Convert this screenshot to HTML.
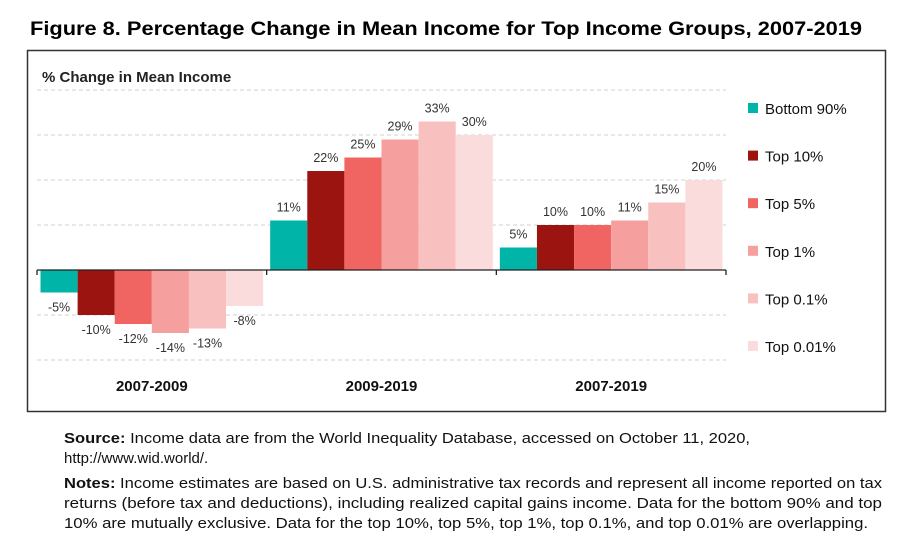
<!DOCTYPE html>
<html><head><meta charset="utf-8"><style>
body{margin:0;background:#fff;width:906px;height:554px;overflow:hidden;font-family:"Liberation Sans",sans-serif}
svg{display:block}
</style></head><body>
<svg width="906" height="554">
<text x="446" y="35" text-anchor="middle" font-size="19" font-weight="bold" textLength="832" lengthAdjust="spacingAndGlyphs" fill="#000">Figure 8. Percentage Change in Mean Income for Top Income Groups, 2007-2019</text>
<rect x="27.5" y="50.5" width="858" height="361" fill="#fff" stroke="#333" stroke-width="1.5"/>
<text x="42" y="82" font-size="15" font-weight="bold" fill="#222">% Change in Mean Income</text>
<g id="grid"></g>
<g id="bars"></g>
<g id="axis"></g>
<g id="legend"></g>
<text x="64" y="443" font-size="15" fill="#111" textLength="686" lengthAdjust="spacingAndGlyphs"><tspan font-weight="bold">Source:</tspan> Income data are from the World  Inequality Database, accessed on October 11, 2020,</text>
<text x="64" y="463" font-size="15" fill="#111">http://www.wid.world/.</text>
<text x="64" y="488" font-size="15" fill="#111" textLength="818" lengthAdjust="spacingAndGlyphs"><tspan font-weight="bold">Notes:</tspan> Income estimates are based on U.S. administrative tax records and represent all income reported on tax</text>
<text x="64" y="508" font-size="15" fill="#111" textLength="818" lengthAdjust="spacingAndGlyphs">returns (before tax and deductions), including realized capital gains income.  Data for the bottom 90% and top</text>
<text x="64" y="528" font-size="15" fill="#111" textLength="804" lengthAdjust="spacingAndGlyphs">10% are mutually exclusive.  Data for the top 10%, top 5%, top 1%, top 0.1%, and top 0.01% are overlapping.</text>
</svg>
<script>
const categories = ["2007-2009","2009-2019","2007-2019"];
const seriesNames = ["Bottom 90%","Top 10%","Top 5%","Top 1%","Top 0.1%","Top 0.01%"];
const bottom90 = [-5,11,5];
const top10 = [-10,22,10];
const top5 = [-12,25,10];
const top1 = [-14,29,11];
const top01 = [-13,33,15];
const top001 = [-8,30,20];
const gridTicks = [40,30,20,10,-10,-20];
const seriesValues=[bottom90,top10,top5,top1,top01,top001];
const colors=["#00b5a8","#9b1410","#f06462","#f5a09e","#f8c0bf","#fbdcdc"];
const NS="http://www.w3.org/2000/svg";
const x0=37,x1=726,zeroY=270,pxPer=4.5;
const band=(x1-x0)/categories.length;
const y=v=>zeroY-v*pxPer;
const xBand=i=>x0+i*band;
function mk(tag,attrs,parent,text){const e=document.createElementNS(NS,tag);for(const k in attrs)e.setAttribute(k,attrs[k]);if(text!==undefined)e.textContent=text;parent.appendChild(e);return e;}
const grid=document.getElementById('grid');
gridTicks.forEach(t=>{
  const l=mk('line',{x1:x0,x2:x1,y1:y(t),y2:y(t),stroke:'#d0d0d0','stroke-width':1,'stroke-dasharray':'4,3'},grid);
  
  
});
const bars=document.getElementById('bars');
const pad=3.5,bw=(band-2*pad)/seriesNames.length;
categories.forEach((c,i)=>{
  seriesValues.forEach((arr,s)=>{
    const v=arr[i];const bx=xBand(i)+pad+s*bw;
    const r=mk('rect',{x:bx,y:Math.min(y(v),zeroY),width:bw,height:Math.abs(v*pxPer),fill:colors[s]},bars);
    
    
    const ty=v>=0?y(v)-9:y(v)+19;
    const t=mk('text',{x:bx+bw/2,y:ty,'text-anchor':'middle','font-size':12.5,fill:'#333'},bars,v+'%');
    
    
  });
});
const axis=document.getElementById('axis');
mk('line',{x1:x0,x2:x1,y1:zeroY,y2:zeroY,stroke:'#222','stroke-width':1.3},axis);
for(let i=0;i<=categories.length;i++){mk('line',{x1:xBand(i),x2:xBand(i),y1:zeroY,y2:zeroY+5,stroke:'#222','stroke-width':1.3},axis);}
categories.forEach((c,i)=>{
  const t=mk('text',{x:xBand(i)+band/2,y:391,'text-anchor':'middle','font-size':15,'font-weight':'bold',fill:'#111'},axis,c);
  
  
});
const lg=document.getElementById('legend');
seriesNames.forEach((n,s)=>{
  const cy=108+s*47.6;
  const sw=mk('rect',{x:748,y:cy-5,width:10,height:10,fill:colors[s]},lg);
  
  
  const t=mk('text',{x:765,y:cy+6,'font-size':15,fill:'#111'},lg,n);
  
  
});
</script>
</body></html>
